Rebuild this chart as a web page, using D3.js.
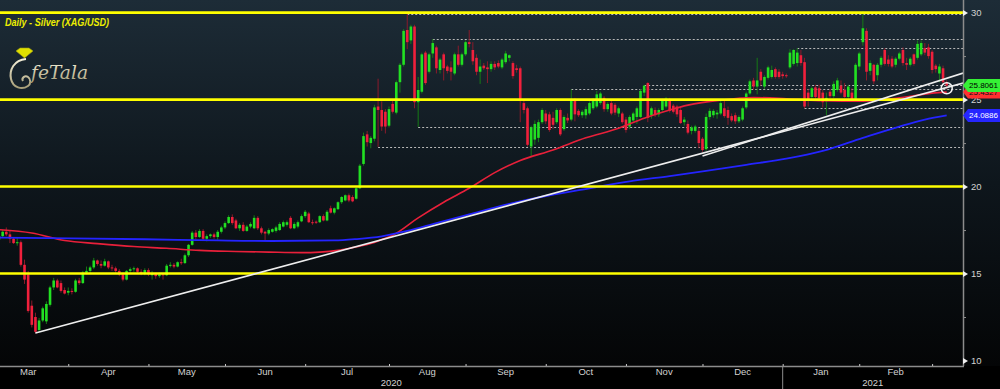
<!DOCTYPE html>
<html lang="en">
<head>
<meta charset="UTF-8">
<title>Daily - Silver (XAG/USD)</title>
<script src="https://d3js.org/d3.v7.min.js"></script>
<style>
  body { margin: 0; background: #000; }
  svg { display: block; }
  .lbl { font-family: "Liberation Sans", Arial, sans-serif; font-size: 9.5px; fill: #d2d2d2; }
</style>
</head>
<body>
<svg id="chart" width="1000" height="389"></svg>
<script>
// daily candles [open, high, low, close], 4 Mar 2020 .. 4 Mar 2021 (weekdays, no 25 Dec)
const candles = [
  // Mar 2020
  [16.95,17.25,16.85,17.15],[17.15,17.50,17.05,17.40],[17.40,17.65,17.15,17.25],[17.25,17.45,16.75,17.00],[17.00,17.10,16.70,16.75],
  [16.75,17.05,16.60,16.80],[16.80,16.90,15.40,15.50],[15.50,15.80,14.40,14.65],[14.95,15.15,12.75,12.85],[13.15,13.45,11.90,12.05],
  [12.50,12.75,11.55,11.65],[11.75,12.45,11.65,12.30],[12.30,13.10,12.20,13.00],[12.25,13.40,12.10,13.25],[13.20,14.30,13.10,14.20],
  [14.20,14.75,14.05,14.60],[14.60,14.70,14.15,14.20],[14.45,14.60,13.90,14.00],[14.05,14.20,13.80,13.85],[13.90,14.20,13.75,14.00],
  // Apr
  [14.00,14.15,13.80,13.95],[13.95,14.70,13.90,14.60],[14.60,14.75,14.35,14.45],[14.45,15.15,14.40,15.05],[15.05,15.40,14.95,15.15],
  [15.15,15.45,15.00,15.35],[15.35,15.90,15.25,15.75],[15.75,15.80,15.45,15.55],[15.55,15.75,15.30,15.45],[15.45,15.85,15.40,15.70],
  [15.70,15.75,15.25,15.35],[15.35,15.50,15.15,15.30],[15.30,15.40,15.05,15.15],[15.15,15.25,14.85,14.95],[14.95,15.05,14.55,14.65],
  [14.65,15.20,14.60,15.15],[15.15,15.35,15.05,15.25],[15.25,15.40,15.10,15.30],[15.30,15.35,15.00,15.10],[15.10,15.25,14.90,15.00],
  [15.00,15.30,14.90,15.20],[15.20,15.30,14.85,14.95],
  // May
  [14.90,15.15,14.65,15.00],[15.00,15.05,14.70,14.85],[14.85,15.05,14.75,14.95],[14.95,15.00,14.65,14.90],[14.90,15.55,14.85,15.45],
  [15.45,15.65,15.35,15.50],[15.50,15.60,15.30,15.40],[15.40,15.70,15.35,15.65],[15.65,15.85,15.50,15.60],[15.60,16.15,15.55,16.05],
  [16.05,16.70,15.95,16.65],[16.65,17.45,16.60,17.35],[17.35,17.50,16.95,17.10],[17.10,17.55,17.05,17.45],[17.45,17.55,16.90,17.00],
  [17.00,17.25,16.85,17.15],[17.15,17.30,17.05,17.25],[17.25,17.35,17.00,17.10],[17.10,17.50,16.95,17.40],[17.40,17.75,17.30,17.65],
  [17.65,18.00,17.55,17.90],
  // Jun
  [17.90,18.35,17.85,18.25],[18.25,18.40,17.80,17.90],[18.05,18.15,17.55,17.60],[17.60,17.90,17.45,17.80],[17.80,17.95,17.40,17.45],
  [17.45,17.80,17.40,17.70],[17.70,17.95,17.60,17.85],[17.60,18.35,17.55,18.20],[18.20,18.30,17.50,17.60],[17.60,17.70,17.25,17.35],
  [17.40,17.45,16.90,17.30],[17.30,17.60,17.20,17.50],[17.40,17.60,17.35,17.55],[17.45,17.75,17.35,17.65],[17.50,17.95,17.45,17.85],
  [17.70,18.05,17.65,17.95],[17.80,18.05,17.70,17.95],[18.20,18.30,17.55,17.60],[17.60,17.95,17.55,17.85],[17.70,18.05,17.60,17.95],
  [18.00,18.40,17.95,18.30],[18.30,18.65,18.20,18.55],
  // Jul
  [18.45,18.55,17.90,17.95],[17.95,18.10,17.80,17.90],[17.98,18.05,17.85,17.92],[17.95,18.35,17.90,18.30],[18.30,18.40,18.00,18.05],
  [18.05,18.65,18.00,18.55],[18.75,18.90,18.45,18.50],[18.50,18.80,18.40,18.75],[18.70,19.15,18.65,19.10],[19.10,19.45,19.00,19.40],
  [19.20,19.55,19.15,19.50],[19.50,19.60,19.10,19.20],[19.40,19.50,19.10,19.15],[19.30,19.95,19.25,19.90],[19.90,21.30,19.85,21.20],
  [21.30,23.10,21.20,22.90],[23.00,23.20,22.30,22.55],[22.50,22.90,22.20,22.80],[22.75,24.70,22.60,24.55],[24.60,26.20,22.28,24.40],
  [24.40,24.90,23.20,23.45],[24.30,24.45,23.05,23.45],[23.50,24.60,23.40,24.45],
  // Aug
  [24.75,24.95,24.20,24.30],[24.25,26.10,24.15,26.00],[26.00,27.10,25.40,27.00],[27.00,29.05,26.90,28.95],[29.00,29.92,27.90,28.30],
  [28.40,29.30,28.20,29.20],[29.20,29.30,24.50,24.85],[24.85,26.30,23.43,25.55],[25.45,27.70,25.35,27.60],[27.70,27.80,25.85,25.95],
  [26.60,27.70,26.50,27.60],[27.65,28.48,27.40,28.25],[28.00,28.10,26.50,26.80],[26.70,27.40,26.50,27.30],[27.60,27.70,26.10,26.80],
  [26.90,27.00,26.50,26.65],[26.85,27.20,26.10,26.60],[26.50,27.70,26.40,27.60],[27.60,28.10,26.90,27.00],[27.00,27.70,26.90,27.60],
  [27.60,28.40,27.50,28.30],
  // Sep
  [28.30,29.00,28.00,28.20],[27.85,28.30,27.00,27.20],[27.40,27.60,26.40,26.60],[26.60,27.30,25.90,26.90],[26.95,27.10,26.70,26.80],
  [26.85,27.20,25.95,26.75],[26.75,27.20,26.60,27.05],[27.05,27.20,26.70,26.85],[27.10,27.25,26.80,26.90],[26.85,27.40,26.75,27.30],
  [27.15,27.80,27.05,27.65],[27.40,27.60,27.20,27.55],[27.10,27.20,26.20,26.35],[26.80,27.00,26.55,26.70],[26.80,26.90,23.70,25.00],
  [24.80,25.00,24.20,24.40],[24.50,24.60,22.30,22.40],[22.30,23.50,21.70,23.40],[22.70,23.80,22.40,23.60],[22.80,23.85,22.55,23.70],
  [23.70,24.50,23.60,24.40],[24.20,24.40,23.60,23.75],
  // Oct
  [24.15,24.30,23.15,23.25],[23.95,24.30,23.30,23.55],[23.70,24.50,23.60,24.40],[24.40,24.50,22.90,23.00],[23.30,24.10,23.20,24.00],
  [23.95,24.20,23.65,23.80],[23.85,25.58,23.75,24.95],[24.95,25.10,23.75,24.15],[24.35,24.45,24.00,24.10],[24.10,24.40,23.95,24.30],
  [24.10,24.60,23.90,24.45],[24.20,24.90,24.10,24.80],[24.50,25.10,24.40,24.95],[24.60,25.50,24.50,25.30],[24.80,25.45,24.70,25.35],
  [25.10,25.20,24.30,24.45],[24.45,24.85,24.30,24.75],[24.80,24.95,24.10,24.20],[24.70,24.80,24.10,24.25],[24.20,24.60,24.00,24.50],
  [24.20,24.30,23.60,23.70],[23.85,24.00,23.10,23.25],
  // Nov
  [23.45,24.10,23.30,24.00],[23.80,24.30,23.70,24.20],[24.00,24.60,23.60,24.50],[24.00,25.60,23.95,25.50],[25.40,25.85,25.20,25.80],
  [25.95,26.00,23.70,23.95],[24.10,24.60,23.90,24.50],[24.40,24.55,24.00,24.10],[24.15,24.50,24.00,24.40],[24.40,25.05,24.30,24.95],
  [24.60,25.15,24.50,25.05],[25.00,25.10,24.25,24.35],[24.65,24.75,24.20,24.30],[24.60,24.70,24.00,24.15],[24.40,24.55,23.60,23.65],
  [23.70,24.00,23.50,23.85],[23.60,23.80,23.00,23.10],[23.20,23.50,23.00,23.40],[23.20,23.55,23.10,23.45],[23.20,23.40,22.20,22.50],
  [22.75,22.85,22.00,22.10],
  // Dec
  [22.15,24.20,22.05,24.00],[24.00,24.50,23.85,24.35],[24.10,24.45,23.95,24.35],[24.15,24.40,23.90,24.25],[24.20,24.95,24.10,24.80],
  [24.50,25.00,23.95,24.05],[24.40,24.60,23.55,23.95],[24.05,24.20,23.70,23.80],[24.10,24.25,23.60,23.75],[23.75,24.10,23.65,24.00],
  [23.85,24.60,23.75,24.50],[24.55,25.45,24.45,25.35],[25.35,26.15,25.25,26.05],[26.10,26.25,25.55,25.75],[25.75,27.40,25.30,26.10],
  [26.60,26.75,25.80,26.10],[25.75,26.40,25.60,26.30],[26.25,26.95,26.15,26.85],[26.30,26.95,26.20,26.70],[26.75,26.85,26.20,26.30],
  [26.60,26.75,26.20,26.30],[26.45,26.60,26.20,26.35],
  // Jan 2021
  [26.40,26.50,26.25,26.35],[26.85,27.90,26.75,27.70],[27.05,27.90,26.95,27.85],[27.10,27.96,26.90,27.70],[27.55,27.85,26.95,27.10],
  [27.15,27.40,24.50,24.60],[25.40,25.60,24.60,25.00],[25.15,25.75,25.00,25.65],[25.70,25.85,25.05,25.15],[25.65,25.85,24.95,25.05],
  [25.40,25.55,24.55,24.85],[24.90,25.40,24.10,25.10],[25.45,25.60,25.10,25.20],[25.20,26.05,25.10,25.90],[25.55,26.25,25.45,26.10],
  [25.80,26.10,25.30,25.40],[25.55,25.95,25.10,25.15],[25.15,25.85,25.05,25.75],[25.40,25.65,24.90,25.00],[25.05,27.10,24.95,27.00],
  [26.90,27.75,26.70,27.65],
  // Feb
  [28.30,30.10,28.10,29.10],[28.95,29.10,26.10,26.60],[26.65,27.25,26.40,27.10],[27.00,27.05,25.90,26.05],[26.40,27.10,26.10,27.00],
  [27.00,27.50,26.85,27.40],[27.85,27.95,26.95,27.05],[27.30,27.55,26.90,27.05],[27.35,27.50,26.80,26.90],[27.00,27.45,26.85,27.35],
  [27.35,27.75,27.25,27.65],[27.85,28.00,26.95,27.10],[27.10,27.40,26.70,27.00],[27.00,27.45,26.90,27.35],[27.60,27.65,26.95,27.05],
  [27.40,28.40,27.30,28.20],[27.60,28.40,27.50,28.25],[27.95,28.25,27.55,27.70],[28.00,28.20,27.35,27.50],[27.75,27.85,26.50,26.70],
  // Mar 2021
  [26.95,27.05,26.55,26.75],[26.50,27.05,26.00,26.90],[26.80,26.95,25.95,26.00],[26.00,26.10,25.60,25.81]
];

// moving averages, [candle index, value]
const redAvg = [[0,17.52],[9,17.33],[18,16.9],[27,16.72],[37,16.55],[46,16.45],[55,16.33],[65,16.27],[74,16.23],
  [83,16.2],[88,16.23],[93,16.33],[97,16.49],[102,16.72],[105,16.95],[108,17.2],[115,18.2],[122,19.1],[129,19.9],
  [136,20.8],[143,21.5],[152,22.1],[161,22.8],[170,23.35],[177,23.93],[184,24.4],[189,24.68],[198,24.97],[207,25.12],
  [216,25.05],[226,24.93],[237,24.9],[247,25.1],[256,25.37],[260,25.43]];
const blueAvg = [[0,17.06],[20,17.02],[40,16.97],[60,16.9],[75,16.87],[92,16.9],[98,16.98],[105,17.14],[112,17.45],
  [120,17.9],[129,18.4],[140,19.0],[151,19.5],[162,19.9],[173,20.3],[184,20.6],[194,20.9],[205,21.25],[216,21.6],
  [226,22.05],[237,22.8],[247,23.45],[254,23.85],[260,24.09]];

const yellowLevels = [30, 25, 20, 15];
// dotted levels [start candle, value]
const rangeLevels = [[112,29.92],[119,28.48],[219,27.96],[177,25.85],[157,25.58],[221,24.50],[115,23.43],[104,22.28]];
// trend lines [k0, v0, k1, v1]
const trendLines = [[10,11.58,264.5,25.95],[193,21.75,264.5,26.52]];
const marker = [260, 25.65];
const yTicks = [10, 15, 20, 25, 30];
const yMinor = [12.5, 17.5, 22.5, 27.5];
const lastValues = [25.4327, 25.8061, 24.0886];   // 100d avg, last price, 200d avg
const firstDay = "2020-03-04";
const holidays = ["2020-12-25"];

const W = 963, H = 366;
const svg = d3.select("#chart");

// weekday calendar
const fmt = d3.timeFormat("%Y-%m-%d");
const cal = d3.timeDays(new Date(2020, 1, 3), new Date(2021, 3, 1))
  .filter(d => d.getDay() > 0 && d.getDay() < 6 && !holidays.includes(fmt(d)));
const start = cal.findIndex(d => fmt(d) === firstDay);

const x = d3.scaleLinear().domain([0, 260]).range([-1, 946.7]);
const y = d3.scaleLinear().domain([10, 30]).range([360.5, 12.6]);

// background
const defs = svg.append("defs");
const grad = defs.append("linearGradient").attr("id", "bg").attr("x1", 0).attr("y1", 0).attr("x2", 0).attr("y2", 1);
grad.append("stop").attr("offset", 0).attr("stop-color", "#1d2c37");
grad.append("stop").attr("offset", 0.5).attr("stop-color", "#0e161c");
grad.append("stop").attr("offset", 1).attr("stop-color", "#040506");
defs.append("clipPath").attr("id", "plot").append("rect").attr("width", W).attr("height", H);

svg.append("rect").attr("width", 1000).attr("height", H).attr("fill", "url(#bg)");
svg.append("rect").attr("y", H).attr("width", 1000).attr("height", 389 - H).attr("fill", "#000");

const g = svg.append("g").attr("clip-path", "url(#plot)");

// dotted range lines
g.selectAll(".rng").data(rangeLevels).enter().append("line")
  .attr("x1", d => x(d[0])).attr("x2", W)
  .attr("y1", d => Math.round(y(d[1])) + 0.5).attr("y2", d => Math.round(y(d[1])) + 0.5)
  .attr("stroke", "#b8b8b8").attr("stroke-width", 1).attr("stroke-dasharray", "2,2");

// candles
const bw = 2.6;
const cg = g.append("g");
cg.selectAll(".wick").data(candles).enter().append("line")
  .attr("x1", (d, i) => x(i)).attr("x2", (d, i) => x(i))
  .attr("y1", d => y(d[1])).attr("y2", d => y(d[2]))
  .attr("stroke", d => d[3] >= d[0] ? "#167a16" : "#8a1b2b").attr("stroke-width", 1);
cg.selectAll(".body").data(candles).enter().append("rect")
  .attr("x", (d, i) => x(i) - bw / 2).attr("width", bw)
  .attr("y", d => y(Math.max(d[0], d[3])))
  .attr("height", d => Math.max(1, Math.abs(y(d[0]) - y(d[3]))))
  .attr("fill", d => d[3] >= d[0] ? "#22e022" : "#f0203c");

// moving averages
const line = d3.line().x(d => x(d[0])).y(d => y(d[1])).curve(d3.curveMonotoneX);
g.append("path").attr("d", line(redAvg)).attr("fill", "none").attr("stroke", "#e8203a").attr("stroke-width", 1.6);
g.append("path").attr("d", line(blueAvg)).attr("fill", "none").attr("stroke", "#2424ff").attr("stroke-width", 1.8);

// yellow levels
g.selectAll(".lvl").data(yellowLevels).enter().append("line")
  .attr("x1", 0).attr("x2", W).attr("y1", d => y(d)).attr("y2", d => y(d))
  .attr("stroke", "#ffff00").attr("stroke-width", 2.6);

// trend lines
g.selectAll(".trend").data(trendLines).enter().append("line")
  .attr("x1", d => x(d[0])).attr("y1", d => y(d[1])).attr("x2", d => x(d[2])).attr("y2", d => y(d[3]))
  .attr("stroke", "#eeeeee").attr("stroke-width", 1.6);

g.append("circle").attr("cx", x(marker[0])).attr("cy", y(marker[1])).attr("r", 5.5)
  .attr("fill", "none").attr("stroke", "#f4f4f4").attr("stroke-width", 1.5);

// right axis
const ax = svg.append("g").attr("transform", `translate(${W},0)`);
ax.append("line").attr("x1", 0.5).attr("x2", 0.5).attr("y1", 0).attr("y2", H).attr("stroke", "#8c8c8c").attr("stroke-width", 1.5);
ax.append("g").call(d3.axisRight(y).tickValues(yMinor).tickSize(3).tickFormat(""))
  .call(s => s.select(".domain").remove())
  .call(s => s.selectAll("line").attr("stroke", "#8c8c8c"));
const yAx = ax.append("g").call(d3.axisRight(y).tickValues(yTicks).tickSize(0).tickPadding(8))
  .call(s => s.select(".domain").remove());
yAx.selectAll("text").attr("class", "lbl").attr("font-size", null).attr("font-family", null).attr("fill", null);
yAx.selectAll(".tick").append("path").attr("d", "M0,-3L5,0L0,3Z").attr("fill", "#f0f0f0");

// last-value boxes
const boxFill = ["#ff3030", "#35f035", "#2626ff"];
const boxText = ["#111", "#000", "#fff"];
const boxes = ax.selectAll(".box").data(lastValues).enter().append("g")
  .attr("transform", d => `translate(0,${y(d)})`);
boxes.append("path").attr("d", "M0,0L5,-6.5L37,-6.5L37,6.5L5,6.5Z").attr("fill", (d, i) => boxFill[i]);
boxes.append("text").attr("x", 6).attr("dy", "0.35em")
  .attr("font-family", "Liberation Sans, Arial, sans-serif").attr("font-size", 8)
  .attr("textLength", 29).attr("lengthAdjust", "spacingAndGlyphs")
  .attr("fill", (d, i) => boxText[i]).text(d => d.toFixed(4));

// bottom axis
const months = [];
for (let i = 1; i < cal.length; i++) {
  if (cal[i].getMonth() !== cal[i - 1].getMonth()) months.push({ k: i - start - 1, date: cal[i] });
}
svg.append("line").attr("x1", 0).attr("x2", W + 1).attr("y1", H + 0.5).attr("y2", H + 0.5)
  .attr("stroke", "#8c8c8c").attr("stroke-width", 1.5);
svg.append("g").attr("transform", `translate(0,${H})`)
  .call(d3.axisBottom(x).tickValues(months.map(m => m.k).filter(k => x(k) > 0 && x(k) < W)).tickSize(-2).tickFormat(""))
  .call(s => s.select(".domain").remove())
  .call(s => s.selectAll("line").attr("stroke", "#c8c8c8"));
months.slice(0, -1).forEach((m, i) => {
  const cx = (x(m.k) + x(months[i + 1].k)) / 2;
  if (cx > 0 && cx < W - 20) {
    svg.append("text").attr("class", "lbl").attr("x", cx).attr("y", 375).attr("text-anchor", "middle")
      .text(d3.timeFormat("%b")(m.date));
  }
});
const yearBreak = months.find(m => m.date.getMonth() === 0);
const sepX = x(yearBreak.k);
svg.append("line").attr("x1", sepX).attr("x2", sepX).attr("y1", H + 1).attr("y2", 389)
  .attr("stroke", "#8c8c8c").attr("stroke-width", 1);
[[0, sepX, "2020"], [sepX, W, "2021"]].forEach(d => {
  svg.append("text").attr("class", "lbl").attr("x", (d[0] + d[1]) / 2).attr("y", 386)
    .attr("text-anchor", "middle").text(d[2]);
});

// title
svg.append("text").attr("x", 5).attr("y", 26)
  .attr("font-family", "Liberation Sans, Arial, sans-serif").attr("font-size", 10)
  .attr("font-style", "italic").attr("font-weight", "bold").attr("fill", "#eeee00")
  .attr("textLength", 104).attr("lengthAdjust", "spacingAndGlyphs")
  .text("Daily - Silver (XAG/USD)");

// logo
const logo = svg.append("g");
const lg = defs.append("linearGradient").attr("id", "cream").attr("x1", 0).attr("y1", 0).attr("x2", 0).attr("y2", 1);
lg.append("stop").attr("offset", 0).attr("stop-color", "#f4efd8");
lg.append("stop").attr("offset", 1).attr("stop-color", "#a89f78");
logo.append("path").attr("d", "M16,51L20,48L29,48L33,51L24.5,58Z").attr("fill", "#e0e000").attr("stroke", "#9a9a10").attr("stroke-width", 0.6);
logo.append("path").attr("d", "M26,59C14,60 9,70 11,79C13,88 22,90 28,86C31,84 31,79 28,77C25,75 21,78 23,81")
  .attr("fill", "none").attr("stroke", "url(#cream)").attr("stroke-width", 2);
logo.append("text").attr("x", 31).attr("y", 79)
  .attr("font-family", "DejaVu Serif, serif").attr("font-style", "italic").attr("font-size", 19)
  .attr("fill", "url(#cream)").attr("textLength", 57).attr("lengthAdjust", "spacingAndGlyphs").text("feTala");
</script>
</body>
</html>
